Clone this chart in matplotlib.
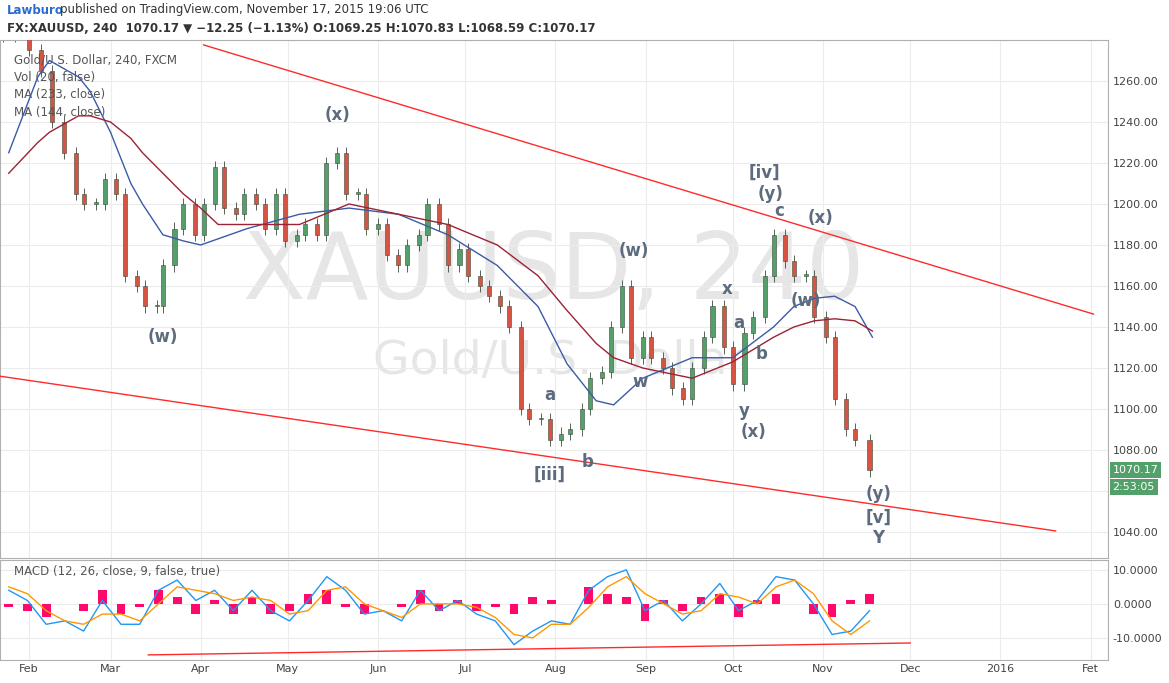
import matplotlib
matplotlib.use("Agg")
import matplotlib.pyplot as plt
import matplotlib.dates as mdates
import pandas as pd
import numpy as np

# ---------------- data ----------------
close_dates = ["2015-01-23","2015-01-27","2015-02-01","2015-02-05","2015-02-09","2015-02-13","2015-02-17","2015-02-20",
    "2015-02-24","2015-02-27","2015-03-03","2015-03-06","2015-03-10","2015-03-13","2015-03-17","2015-03-19",
    "2015-03-23","2015-03-26","2015-03-30","2015-04-02","2015-04-06","2015-04-09","2015-04-13","2015-04-16",
    "2015-04-20","2015-04-23","2015-04-27","2015-04-30","2015-05-04","2015-05-07","2015-05-11","2015-05-14",
    "2015-05-18","2015-05-21","2015-05-25","2015-05-28","2015-06-01","2015-06-04","2015-06-08","2015-06-11",
    "2015-06-15","2015-06-18","2015-06-22","2015-06-25","2015-06-29","2015-07-02","2015-07-06","2015-07-09",
    "2015-07-13","2015-07-16","2015-07-20","2015-07-23","2015-07-27","2015-07-30","2015-08-03","2015-08-06",
    "2015-08-10","2015-08-13","2015-08-17","2015-08-20","2015-08-24","2015-08-27","2015-08-31","2015-09-03",
    "2015-09-07","2015-09-10","2015-09-14","2015-09-17","2015-09-21","2015-09-24","2015-09-28","2015-10-01",
    "2015-10-05","2015-10-08","2015-10-12","2015-10-15","2015-10-19","2015-10-22","2015-10-26","2015-10-29",
    "2015-11-02","2015-11-05","2015-11-09","2015-11-12","2015-11-17"]
closes = [1282,1290,1275,1265,1240,1225,1205,1200,1200,1212,1205,1165,1160,1150,1150,1170,1188,1200,1185,1200,
          1218,1198,1195,1205,1200,1188,1205,1182,1185,1190,1185,1220,1225,1205,1205,1188,1190,1175,1170,1180,
          1185,1200,1190,1170,1178,1165,1160,1155,1150,1140,1100,1095,1095,1085,1088,1090,1100,1115,1118,1140,
          1160,1125,1135,1125,1120,1110,1105,1120,1135,1150,1130,1112,1137,1145,1165,1185,1172,1165,1165,1145,
          1135,1105,1090,1085,1070]

ma_dates = ["2015-01-25","2015-02-04","2015-02-08","2015-02-18","2015-02-22","2015-03-01","2015-03-08","2015-03-12",
            "2015-03-19","2015-03-26","2015-04-01","2015-04-07","2015-04-17","2015-05-05","2015-05-22","2015-06-08",
            "2015-06-25","2015-07-12","2015-07-26","2015-08-05","2015-08-15","2015-08-21","2015-08-31","2015-09-17",
            "2015-10-01","2015-10-15","2015-10-22","2015-10-29","2015-11-05","2015-11-12","2015-11-18"]
ma144 = [1225,1262,1270,1262,1255,1235,1210,1200,1185,1182,1180,1183,1188,1195,1198,1195,1185,1170,1150,1122,
         1104,1102,1115,1125,1125,1140,1150,1154,1155,1150,1135]
ma233 = [1215,1230,1235,1243,1243,1240,1232,1225,1215,1205,1198,1190,1190,1190,1200,1195,1190,1180,1165,1148,
         1132,1125,1120,1115,1123,1135,1140,1143,1144,1143,1138]

upper_line_dates = ["2015-04-02","2016-02-02"]; upper_line_vals = [1277.6,1146.3]
lower_line_dates = ["2015-01-22","2016-01-20"]; lower_line_vals = [1116,1040.5]
macd_line_dates = ["2015-03-14","2015-12-01"]; macd_line_vals = [-15,-11.5]

macd_vals = [4,1,-6,-5,-8,1,-6,-6,4,7,1,4,-2,4,-2,-5,1,8,4,-3,-2,-5,4,-2,1,-3,-5,-12,-8,-5,-6,4,8,10,
             -2,1,-5,0,6,-2,1,8,7,0,-9,-8,-2]
signal_vals = [5,3,-2,-5,-6,-3,-3,-5,0,5,4,3,1,2,1,-3,-2,4,5,0,-2,-4,0,0,0,-1,-4,-9,-10,-6,-6,-1,5,8,
               3,0,-3,-2,3,2,0,5,7,3,-5,-9,-5]

wave_labels = [("(x)","2015-05-18",1243.4),("(w)","2015-03-19",1135),("[iii]","2015-07-30",1068),
    ("a","2015-07-30",1107),("b","2015-08-12",1074),("(w)","2015-08-28",1177),("w","2015-08-30",1113),
    ("x","2015-09-29",1158.5),("a","2015-10-03",1142),("b","2015-10-11",1127),("y","2015-10-05",1099),
    ("(x)","2015-10-08",1089),("[iv]","2015-10-12",1215),("(y)","2015-10-14",1205),("c","2015-10-17",1196.6),
    ("(x)","2015-10-31",1193),("(w)","2015-10-26",1152.7),("(y)","2015-11-20",1058.5),("[v]","2015-11-20",1047),
    ("Y","2015-11-20",1037)]

# ---------------- figure ----------------
W, H = 1169, 683
fig = plt.figure(figsize=(W/100, H/100), dpi=100)
axp = fig.add_axes([0, 1-558/H, 1108/W, 518/H])
axm = fig.add_axes([0, 1-660/H, 1108/W, 100/H], sharex=axp)

xlim = (mdates.date2num(pd.Timestamp("2015-01-22")), mdates.date2num(pd.Timestamp("2016-02-07")))
grid_c = "#ececec"
for ax in (axp, axm):
    ax.set_xlim(*xlim)
    ax.grid(True, color=grid_c, lw=0.8)
    ax.set_axisbelow(True)
    for s in ax.spines.values():
        s.set_color("#b0b0b0")
    ax.yaxis.tick_right()
    ax.tick_params(axis="y", labelsize=8, colors="#444", length=0)

axp.set_ylim(1027.3, 1280)
axp.set_yticks(np.arange(1040, 1261, 20))
axp.set_yticklabels([f"{v:.2f}" for v in np.arange(1040, 1261, 20)])
axp.tick_params(axis="x", labelbottom=False, length=0)

# watermark
axp.text(0.5, 0.55, "XAUUSD, 240", transform=axp.transAxes, fontsize=66, color="#e6e6e6",
         ha="center", va="center", zorder=0)
axp.text(0.505, 0.38, "Gold/U.S. Dollar", transform=axp.transAxes, fontsize=34, color="#e6e6e6",
         ha="center", va="center", zorder=0)

# candles
cd = mdates.date2num(pd.to_datetime(close_dates))
opens = [closes[0]] + closes[:-1]
for x, o, c in zip(cd, opens, closes):
    up = c >= o
    col = "#53a06a" if up else "#d75442"
    lo, hi = min(o, c), max(o, c)
    axp.vlines(x, lo - 3, hi + 3, color="#3b4a3b", lw=0.6, zorder=2)
    axp.bar(x, max(hi - lo, 0.8), bottom=lo, width=1.4, color=col, edgecolor="#3b4a3b", lw=0.4, zorder=3)

md = mdates.date2num(pd.to_datetime(ma_dates))
axp.plot(md, ma144, color="#3b5ba5", lw=1, zorder=4)
axp.plot(md, ma233, color="#9b2335", lw=1, zorder=4)

axp.plot(mdates.date2num(pd.to_datetime(upper_line_dates)), upper_line_vals, color="#ff2a2a", lw=1, zorder=5)
axp.plot(mdates.date2num(pd.to_datetime(lower_line_dates)), lower_line_vals, color="#ff2a2a", lw=1, zorder=5)

for t, d, v in wave_labels:
    axp.text(mdates.date2num(pd.Timestamp(d)), v, t, color="#5d6b7e", fontsize=12, fontweight="bold",
             ha="center", va="center", zorder=6)

for i, t in enumerate(["Gold/U.S. Dollar, 240, FXCM", "Vol (20, false)", "MA (233, close)", "MA (144, close)"]):
    axp.text(0.013, 0.962 - i*0.034, t, transform=axp.transAxes, fontsize=8.5, color="#555", va="center")

# price tags
axp.text(1.004, 1070.17, "1070.17", transform=axp.get_yaxis_transform(), fontsize=8, color="white",
         va="center", ha="left", bbox=dict(boxstyle="square,pad=0.25", fc="#53a06a", ec="none"), clip_on=False)
axp.text(1.004, 1062, "2:53:05", transform=axp.get_yaxis_transform(), fontsize=8, color="white",
         va="center", ha="left", bbox=dict(boxstyle="square,pad=0.25", fc="#53a06a", ec="none"), clip_on=False)

# MACD
mdd = mdates.date2num(pd.date_range("2015-01-25", "2015-11-17", periods=len(macd_vals)))
hist = np.array(macd_vals) - np.array(signal_vals)
axm.bar(mdd, hist, width=3, color="#ff0a6c", zorder=2)
axm.plot(mdd, macd_vals, color="#2196f3", lw=1, zorder=3)
axm.plot(mdd, signal_vals, color="#ff9800", lw=1, zorder=3)
axm.plot(mdates.date2num(pd.to_datetime(macd_line_dates)), macd_line_vals, color="#ff2a2a", lw=1)
axm.set_ylim(-16.5, 12.9)
axm.set_yticks([10, 0, -10])
axm.set_yticklabels(["10.0000", "0.0000", "-10.0000"])
axm.text(0.013, 0.88, "MACD (12, 26, close, 9, false, true)", transform=axm.transAxes, fontsize=8.5,
         color="#555", va="center")

ticks = pd.to_datetime(["2015-02-01","2015-03-01","2015-04-01","2015-05-01","2015-06-01","2015-07-01",
                        "2015-08-01","2015-09-01","2015-10-01","2015-11-01","2015-12-01","2016-01-01","2016-02-01"])
axm.set_xticks(mdates.date2num(ticks))
axm.set_xticklabels(["Feb","Mar","Apr","May","Jun","Jul","Aug","Sep","Oct","Nov","Dec","2016","Fet"],
                    fontsize=8, color="#444")
axm.tick_params(axis="x", length=0, pad=3)

fig.text(7/W, 1-10/H, "Lawburo", fontsize=8.5, color="#2a6bd1", fontweight="bold", va="center")
fig.text(60/W, 1-10/H, "published on TradingView.com, November 17, 2015 19:06 UTC", fontsize=8.5,
         color="#333", va="center")
fig.text(7/W, 1-29/H, "FX:XAUUSD, 240  1070.17 ▼ −12.25 (−1.13%) O:1069.25 H:1070.83 L:1068.59 C:1070.17",
         fontsize=8.5, color="#333", va="center", fontweight="bold")

fig.savefig("out.png", dpi=100, facecolor="white")
